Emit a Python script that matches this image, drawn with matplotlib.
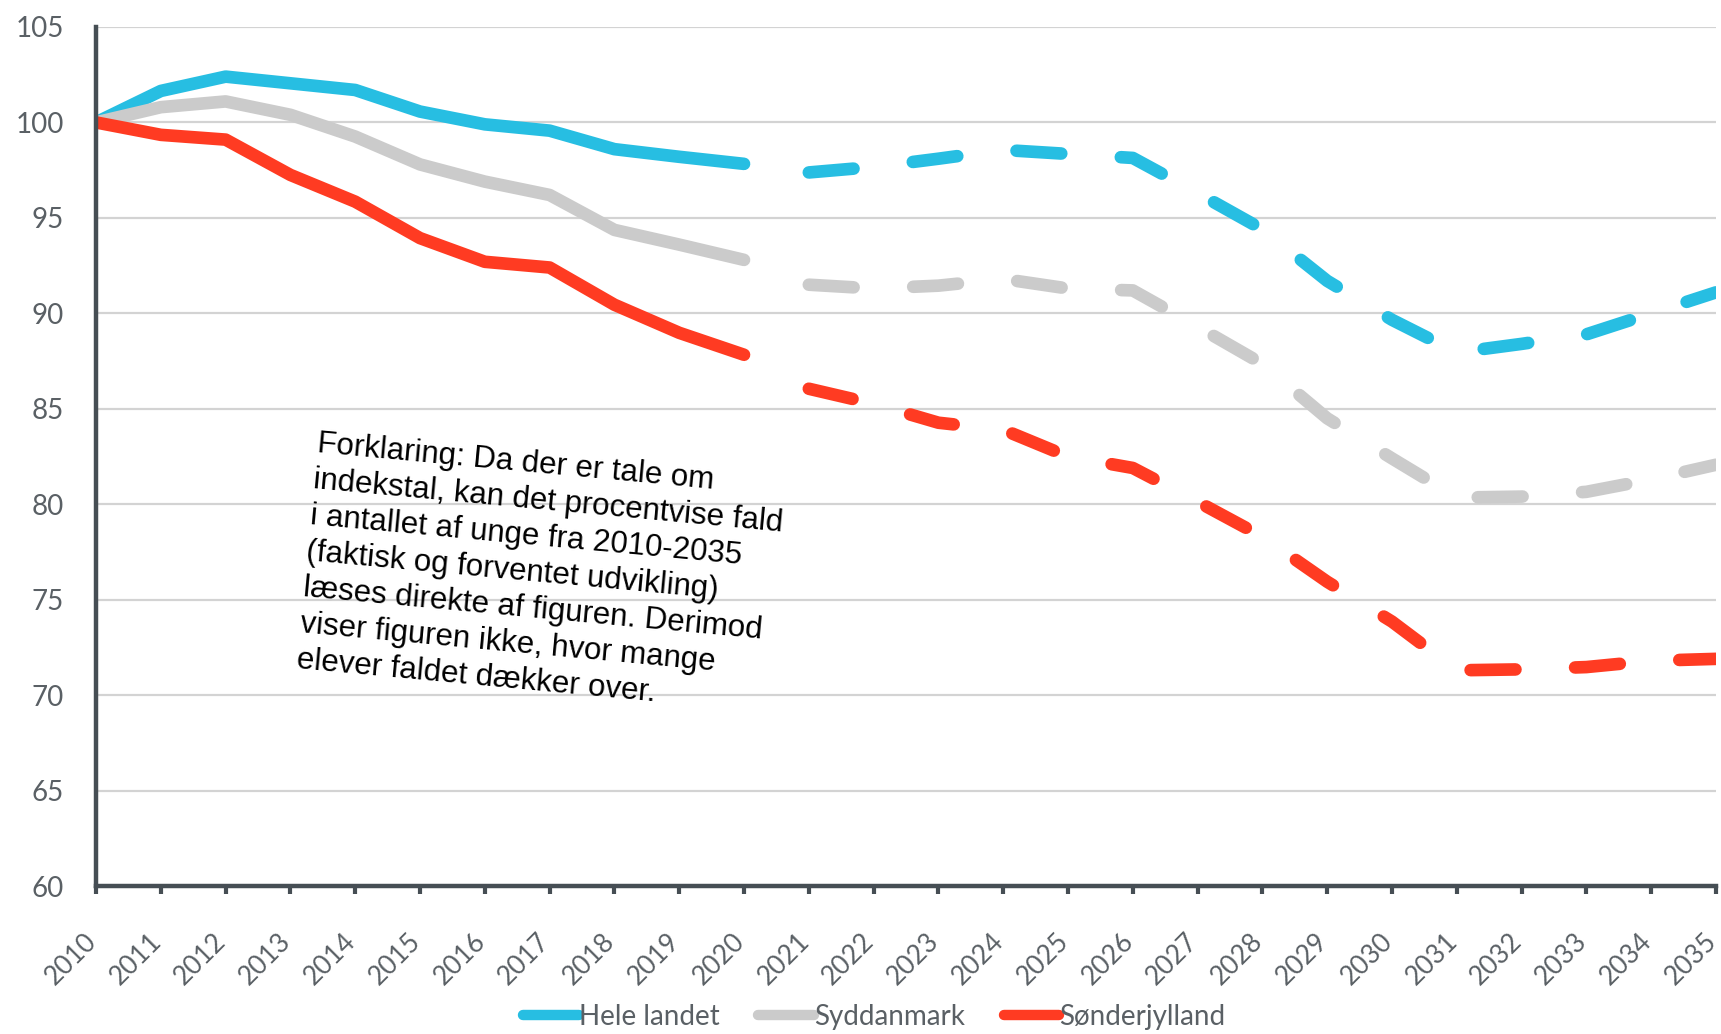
import matplotlib
matplotlib.use("Agg")
import matplotlib.pyplot as plt
from matplotlib.transforms import ScaledTranslation
import numpy as np

# indekstal, 2010 = 100
aar_faktisk = list(range(2010, 2021))
aar_prognose = list(range(2021, 2036))

hele_faktisk = [100, 101.65, 102.4, 102.05, 101.7, 100.57, 99.9, 99.57, 98.6, 98.2, 97.83]
hele_prognose = [97.38, 97.67, 98.1, 98.56, 98.35, 98.14, 96.3, 94.4, 91.7, 89.66, 87.95, 88.4, 88.9, 90.0, 91.1]

syd_faktisk = [100, 100.8, 101.1, 100.4, 99.26, 97.8, 96.9, 96.2, 94.37, 93.6, 92.8]
syd_prognose = [91.5, 91.3, 91.45, 91.8, 91.3, 91.2, 89.3, 87.35, 84.5, 82.4, 80.35, 80.4, 80.65, 81.3, 82.07]

sdj_faktisk = [100, 99.35, 99.1, 97.25, 95.85, 93.94, 92.7, 92.4, 90.45, 88.98, 87.83]
sdj_prognose = [86.05, 85.26, 84.27, 83.9, 82.5, 81.9, 80.13, 78.3, 75.94, 73.85, 71.3, 71.35, 71.47, 71.8, 71.9]

serier = [
	("Hele landet", hele_faktisk, hele_prognose, "#27bee2"),
	("Syddanmark", syd_faktisk, syd_prognose, "#cbcbcb"),
	("Sønderjylland", sdj_faktisk, sdj_prognose, "#ff3b22"),
]

forklaring = ("Forklaring: Da der er tale om\n"
	"indekstal, kan det procentvise fald\n"
	"i antallet af unge fra 2010-2035\n"
	"(faktisk og forventet udvikling)\n"
	"læses direkte af figuren. Derimod\n"
	"viser figuren ikke, hvor mange\n"
	"elever faldet dækker over.")

akse_farve = "#464e54"
tekst_farve = "#5a6065"
lw = 9.1

fig = plt.figure(figsize=(17.21, 10.34), dpi=100)
ax = fig.add_axes([0.0558, 0.1431, 0.9413, 0.8308])

for navn, faktisk, prognose, farve in serier:
	ax.plot(aar_faktisk, faktisk, color=farve, lw=lw, solid_capstyle="round",
		solid_joinstyle="round", label=navn, zorder=3)
	ax.plot(aar_prognose, prognose, color=farve, lw=lw, dashes=(3.55, 4.72),
		dash_capstyle="round", dash_joinstyle="round", zorder=3)

ax.set_xlim(2010, 2035)
ax.set_ylim(60, 105)
ax.set_yticks(np.arange(60, 106, 5))
ax.set_xticks(range(2010, 2036))
ax.yaxis.grid(True, color="#d3d3d3", lw=1.6)
ax.set_axisbelow(True)

for side in ["top", "right"]:
	ax.spines[side].set_visible(False)
for side in ["left", "bottom"]:
	ax.spines[side].set_color(akse_farve)
	ax.spines[side].set_linewidth(3.2)
	ax.spines[side].set_zorder(4)

ax.tick_params(axis="y", length=0, pad=23, labelsize=20, labelcolor=tekst_farve)
ax.tick_params(axis="x", length=6, width=3, color=akse_farve, pad=31,
	labelsize=19, labelcolor=tekst_farve, labelrotation=45)
skub = ScaledTranslation(-2.5 / 72, 0, fig.dpi_scale_trans)
for lbl in ax.get_xticklabels():
	lbl.set_ha("right")
	lbl.set_va("center")
	lbl.set_rotation_mode("anchor")
	lbl.set_transform(lbl.get_transform() + skub)
for lbl in ax.get_xticklabels() + ax.get_yticklabels():
	lbl.set_family("Lato")

ax.text(2013.43, 83.95, forklaring, transform=ax.transData, family="Liberation Sans",
	fontsize=22.5, color="black", rotation=-5.3, rotation_mode="anchor",
	ha="left", va="top", linespacing=1.27, zorder=5)

leg = ax.legend(loc="center", bbox_to_anchor=(0.508, 0.0164), bbox_transform=fig.transFigure,
	ncol=3, frameon=False, handlelength=2.0, handletextpad=0.0, columnspacing=1.4,
	prop={"family": "Lato", "size": 20})
for line in leg.get_lines():
	line.set_linewidth(7.5)
for t in leg.get_texts():
	t.set_color(tekst_farve)

fig.savefig("out.png", dpi=100)
